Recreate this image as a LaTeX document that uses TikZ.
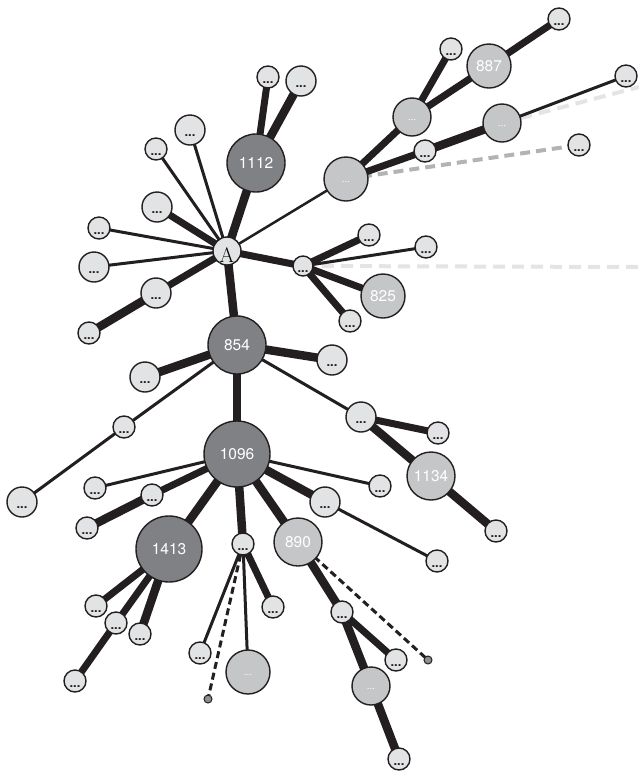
\documentclass[tikz,border=0pt]{standalone}
\usepackage{fontspec}
\newfontfamily\hv{TeX Gyre Heros}
\usetikzlibrary{backgrounds}
\definecolor{bd}{HTML}{231F20}
\definecolor{ltc}{HTML}{E2E3E4}
\definecolor{mdc}{HTML}{C5C6C8}
\definecolor{dkc}{HTML}{808184}
\definecolor{gdash}{HTML}{B3B3B3}
\definecolor{ldash}{HTML}{E4E4E4}
\tikzset{
  nd/.style={circle, draw=bd, line width=1.4pt, inner sep=0pt},
  lt/.style={nd, fill=ltc, minimum size=2*#1 pt,
     label={[font=\hv\bfseries\fontsize{13}{13}\selectfont, text=bd, inner sep=0pt, yshift=-6pt]center:...}},
  md/.style={nd, fill=mdc, minimum size=2*#1 pt},
  mdd/.style={md=#1, label={[font=\hv\fontsize{10}{10}\selectfont, text=white, inner sep=0pt, yshift=-3pt]center:...}},
  dk/.style={nd, fill=dkc, minimum size=2*#1 pt},
  num/.style={font=\hv\fontsize{15.5}{15.5}\selectfont, text=white},
  dotn/.style={nd, fill=gdash!80!black, line width=1pt, minimum size=8pt},
  ethin/.style={draw=bd, line width=3pt},
  ethick/.style={draw=bd, line width=8.5pt},
  emed/.style={draw=bd, line width=7pt},
  bdash/.style={draw=bd, line width=3pt, dash pattern=on 7pt off 4pt},
  gd/.style={draw=gdash, line width=4pt, dash pattern=on 10pt off 6pt},
  ld/.style={draw=ldash, line width=4pt, dash pattern=on 12pt off 7pt},
}
\begin{document}
\begin{tikzpicture}[x=1pt,y=-1pt]
\useasboundingbox (0,0) rectangle (639,772);
% nodes
\node[nd, fill=ltc, minimum size=28pt, label={[font=\fontsize{21}{21}\selectfont, inner sep=0pt, yshift=-4pt]center:A}] (A) at (227,251) {};
\node[dk=29, num] (n1112) at (256,163) {1112};
\node[lt=11] (t1) at (268,77) {};
\node[lt=15] (t2) at (301,81) {};
\node[lt=15] (a1) at (190,130) {};
\node[lt=11] (a2) at (156,149) {};
\node[lt=15] (a3) at (157,207) {};
\node[lt=11] (a4) at (99,228) {};
\node[lt=15] (a5) at (94,267) {};
\node[lt=15] (a6) at (156,293) {};
\node[lt=11] (a7) at (89,333) {};
\node[mdd=22] (m1) at (346,179) {};
\node[mdd=19] (m2) at (412,117) {};
\node[md=22, num] (n887) at (489,66) {887};
\node[lt=11] (b1) at (559,19) {};
\node[lt=11] (b2) at (451,49) {};
\node[lt=11] (b3) at (425,151) {};
\node[mdd=19] (m3) at (502,123) {};
\node[lt=11] (b4) at (626,76) {};
\node[lt=11] (b5) at (579,145) {};
\node[lt=10] (h) at (303,266) {};
\node[lt=11] (c1) at (369,235) {};
\node[lt=11] (c2) at (426,247) {};
\node[md=22, num] (n825) at (383,296) {825};
\node[lt=11] (c3) at (350,321) {};
\node[dk=29, num] (n854) at (237,345) {854};
\node[lt=15] (d1) at (145,377) {};
\node[lt=11] (d2) at (124,427) {};
\node[lt=15] (d3) at (22,502) {};
\node[lt=15] (d4) at (332,360) {};
\node[lt=15] (d5) at (361,417) {};
\node[lt=11] (d6) at (438,433) {};
\node[md=24, num] (n1134) at (431,476) {1134};
\node[lt=11] (d7) at (496,531) {};
\node[dk=33, num] (n1096) at (237,454) {1096};
\node[lt=11] (e1) at (95,488) {};
\node[lt=11] (e2) at (152,495) {};
\node[lt=11] (e3) at (87,528) {};
\node[dk=33, num] (n1413) at (169,549) {1413};
\node[lt=11] (e4) at (243,544) {};
\node[md=24, num] (n890) at (298,542) {890};
\node[lt=15] (e5) at (325,502) {};
\node[lt=11] (e6) at (380,486) {};
\node[lt=11] (e7) at (437,561) {};
\node[lt=11] (f1) at (96,606) {};
\node[lt=11] (f2) at (116,623) {};
\node[lt=11] (f3) at (140,634) {};
\node[lt=11] (f4) at (75,681) {};
\node[lt=11] (g1) at (273,607) {};
\node[lt=11] (g2) at (200,653) {};
\node[mdd=22] (m4) at (248,672) {};
\node[dotn] (g3) at (208,699) {};
\node[lt=11] (k1) at (342,612) {};
\node[lt=11] (k2) at (396,660) {};
\node[dotn] (k3) at (428,660) {};
\node[mdd=19] (m5) at (371,686) {};
\node[lt=11] (k4) at (399,759) {};
\coordinate (x1) at (639,267);
\coordinate (x2) at (639,87);
% edges
\begin{scope}[on background layer]
\draw[ld] (h.center) -- (x1);
\draw[ld] (m3.center) -- (x2);
\draw[gd] (m1.center) -- (b5.center);
\draw[bdash] (e4.center) -- (g3.center);
\draw[bdash] (n890.center) -- (k3.center);
\draw[ethick] (A.center) -- (n1112.center);
\draw[emed] (n1112.center) -- (t1.center);
\draw[ethick] (n1112.center) -- (t2.center);
\draw[ethin] (A.center) -- (a1.center);
\draw[ethin] (A.center) -- (a2.center);
\draw[emed] (A.center) -- (a3.center);
\draw[ethin] (A.center) -- (a4.center);
\draw[ethin] (A.center) -- (a5.center);
\draw[emed] (A.center) -- (a6.center);
\draw[ethick] (a6.center) -- (a7.center);
\draw[draw=bd, line width=2.5pt] (A.center) -- (m1.center);
\draw[emed] (A.center) -- (h.center);
\draw[ethick] (A.center) -- (n854.center);
\draw[emed] (h.center) -- (c1.center);
\draw[ethin] (h.center) -- (c2.center);
\draw[emed] (h.center) -- (n825.center);
\draw[emed] (h.center) -- (c3.center);
\draw[emed] (m1.center) -- (m2.center);
\draw[emed] (m1.center) -- (b3.center);
\draw[emed] (m2.center) -- (b2.center);
\draw[emed] (m2.center) -- (n887.center);
\draw[emed] (n887.center) -- (b1.center);
\draw[ethick] (b3.center) -- (m3.center);
\draw[ethin] (m3.center) -- (b4.center);
\draw[ethick] (n854.center) -- (d1.center);
\draw[ethin] (n854.center) -- (d2.center);
\draw[ethin] (d2.center) -- (d3.center);
\draw[ethick] (n854.center) -- (d4.center);
\draw[ethin] (n854.center) -- (d5.center);
\draw[emed] (d5.center) -- (d6.center);
\draw[ethick] (d5.center) -- (n1134.center);
\draw[ethick] (n1134.center) -- (d7.center);
\draw[ethick] (n854.center) -- (n1096.center);
\draw[ethin] (n1096.center) -- (e1.center);
\draw[emed] (n1096.center) -- (e2.center);
\draw[ethick] (e2.center) -- (e3.center);
\draw[ethick] (n1096.center) -- (n1413.center);
\draw[ethick] (n1096.center) -- (e4.center);
\draw[ethick] (n1096.center) -- (n890.center);
\draw[ethick] (n1096.center) -- (e5.center);
\draw[ethin] (n1096.center) -- (e6.center);
\draw[ethin] (e5.center) -- (e7.center);
\draw[emed] (n1413.center) -- (f1.center);
\draw[emed] (n1413.center) -- (f2.center);
\draw[emed] (f2.center) -- (f4.center);
\draw[ethick] (n1413.center) -- (f3.center);
\draw[ethin] (e4.center) -- (g2.center);
\draw[ethin] (e4.center) -- (m4.center);
\draw[emed] (e4.center) -- (g1.center);
\draw[ethick] (n890.center) -- (k1.center);
\draw[emed] (k1.center) -- (k2.center);
\draw[ethick] (k1.center) -- (m5.center);
\draw[ethick] (m5.center) -- (k4.center);
\end{scope}
\end{tikzpicture}
\end{document}
